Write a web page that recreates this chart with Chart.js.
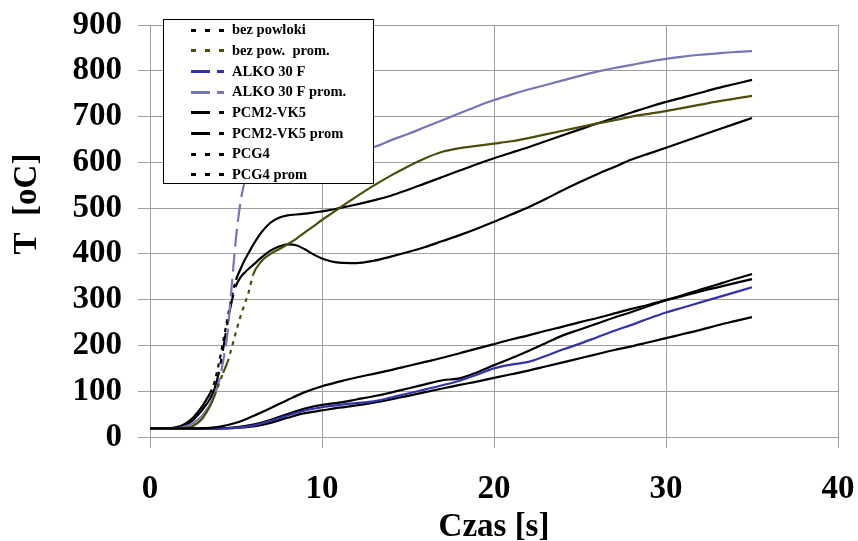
<!DOCTYPE html>
<html>
<head>
<meta charset="utf-8">
<script src="https://cdn.jsdelivr.net/npm/chart.js@4.4.1/dist/chart.umd.min.js"></script>
<style>
html,body{margin:0;padding:0;background:#fff;}
#wrap{width:858px;height:541px;position:relative;}
</style>
</head>
<body>
<div id="wrap"><canvas id="c" width="858" height="541"></canvas></div>
<script>
// ---- data ----
const timeFast = [0,1,1.5,2,2.5,3,3.25,3.5,3.75,4,4.25,4.5,4.75,5,5.25,5.5,5.75,6,6.5,7,7.5,8,8.5,9,9.5,10,10.5,11,12,13,14,15,16,17,18,19,20,21,22,23,24,25,26,27,28,29,30,31,32,33,34,35];
const timeSlow = [0,1,2,3,4,5,6,7,8,9,10,11,12,13,14,15,16,17,18,19,20,21,22,23,24,25,26,27,28,29,30,31,32,33,34,35];

const bezPowloki   = [19,19,19,19,22,31,46,63,81,98,111,121,130,138,146,155,164,173,183,193,203,213,222,232,241,251,260,270,280,289,299,308,318,327,336,345];
const bezPowProm   = [18,18,18,19,24,38,52,68,90,115,140,163,195,230,262,290,318,355,385,400,410,421,433,447,460,474,487,500,525,549,571,591,609,623,631,636,641,646,653,661,669,677,685,692,700,706,712,719,726,733,739,745];
const alko30F      = [19,19,19,19,19,20,25,35,47,58,65,70,74,78,86,95,104,113,123,136,150,158,164,177,191,204,218,232,245,259,272,283,294,305,316,327];
const alko30FProm  = [18,18,19,22,30,45,57,72,92,120,165,225,330,435,510,556,572,584,594,600,604,607,609,611,614,616,619,622,627,633,648,662,677,692,707,722,736,748,759,769,779,789,798,806,813,820,826,831,835,838,841,843];
const pcm2vk5      = [19,19,19,19,19,21,27,37,50,62,70,75,82,89,97,106,115,124,128,141,157,172,188,205,222,235,248,261,273,286,299,310,322,333,345,356];
const pcm2vk5Prom  = [19,19,20,25,37,57,70,84,105,140,192,248,296,330,348,359,368,376,393,407,416,421,419,410,399,390,384,381,380,385,394,404,415,428,441,455,470,486,502,520,539,557,574,590,606,619,632,645,658,671,684,697];
const pcg4         = [19,19,19,19,19,20,23,31,42,52,58,64,69,75,82,90,98,106,114,121,129,137,145,154,163,172,181,190,198,207,216,225,234,244,253,262];
const pcg4Prom     = [19,19,21,28,42,65,80,96,120,160,208,258,305,343,366,386,403,420,448,468,479,484,486,488,490,493,496,500,508,517,527,540,554,568,582,596,609,621,633,646,659,672,685,697,709,721,732,742,752,762,771,780];

const seriesLabels = ['bez powloki','bez pow.  prom.','ALKO 30 F','ALKO 30 F prom.','PCM2-VK5','PCM2-VK5 prom','PCG4','PCG4 prom'];
const xTickValues = [0,10,20,30,40];
const yTickValues = [0,100,200,300,400,500,600,700,800,900];
const xTitle = 'Czas [s]';
const yTitle = 'T  [oC]';

// ---- styles ----
const DOT = [4,5], DASH = [18,7], DASHDOT = [18,8,5,8];
const legendDash = {dot:[5,9], dash:[19,7], dashdot:[19,9,5,9]};
const serif = "'Liberation Serif','Times New Roman',serif";

function pairs(xs, ys){ return ys.map((v,i)=>({x:xs[i], y:v})); }
function mk(label, xs, ys, color, dash, ldash){
  return {
    label, data: pairs(xs, ys), borderColor: color, backgroundColor: color,
    borderWidth: 2.2, pointRadius: 0, fill: false, cubicInterpolationMode: 'monotone',
    borderDash: dash, legendDash: ldash,
    segment: {
      borderDash: ctx => (Math.abs(ctx.p1.y - ctx.p0.y) > 2.5 * Math.abs(ctx.p1.x - ctx.p0.x)) ? dash : []
    }
  };
}

const datasets = [
  mk(seriesLabels[0], timeSlow, bezPowloki,  '#000000', DOT, legendDash.dot),
  mk(seriesLabels[1], timeFast, bezPowProm,  '#4d4d0c', DOT, legendDash.dot),
  mk(seriesLabels[2], timeSlow, alko30F,     '#3434a8', DASH, legendDash.dash),
  mk(seriesLabels[3], timeFast, alko30FProm, '#7676b6', DASH, legendDash.dash),
  mk(seriesLabels[4], timeSlow, pcm2vk5,     '#000000', DASHDOT, legendDash.dashdot),
  mk(seriesLabels[5], timeFast, pcm2vk5Prom, '#000000', DASHDOT, legendDash.dashdot),
  mk(seriesLabels[6], timeSlow, pcg4,        '#000000', DOT, legendDash.dot),
  mk(seriesLabels[7], timeFast, pcg4Prom,    '#000000', DOT, legendDash.dot)
];

const boxLegend = {
  id: 'boxLegend',
  afterDraw(chart){
    const ctx = chart.ctx;
    const L = 163.5, T = 19.5, W = 210, H = 164;
    ctx.save();
    ctx.fillStyle = '#fff';
    ctx.fillRect(L, T, W, H);
    ctx.strokeStyle = '#000';
    ctx.lineWidth = 1;
    ctx.setLineDash([]);
    ctx.strokeRect(L, T, W, H);
    ctx.font = 'bold 14.5px ' + serif;
    ctx.textBaseline = 'middle';
    ctx.textAlign = 'left';
    chart.data.datasets.forEach((ds, i) => {
      const y = 29.5 + i * 20.7;
      ctx.strokeStyle = ds.borderColor;
      ctx.lineWidth = 3;
      ctx.lineCap = 'butt';
      ctx.setLineDash(ds.legendDash);
      ctx.beginPath();
      ctx.moveTo(191, Math.round(y) + 0.5);
      ctx.lineTo(224, Math.round(y) + 0.5);
      ctx.stroke();
      ctx.setLineDash([]);
      ctx.fillStyle = '#000';
      ctx.fillText(ds.label, 232, y + 1);
    });
    ctx.restore();
  }
};

const yTitlePlugin = {
  id: 'yTitlePlugin',
  afterDraw(chart){
    const ctx = chart.ctx;
    const ca = chart.chartArea;
    ctx.save();
    ctx.translate(27, ca.top + 179);
    ctx.rotate(-Math.PI/2);
    ctx.font = 'bold 33px ' + serif;
    ctx.fillStyle = '#000';
    ctx.textAlign = 'center';
    ctx.textBaseline = 'middle';
    ctx.fillText(yTitle, 0, 0);
    ctx.restore();
  }
};

const gridColor = '#a0a0a0';
new Chart(document.getElementById('c'), {
  type: 'line',
  data: { datasets },
  options: {
    responsive: false,
    animation: false,
    layout: { padding: { left: 0, top: 25, right: 20, bottom: 0 } },
    plugins: { legend: { display: false }, tooltip: { enabled: false } },
    scales: {
      x: {
        type: 'linear', min: 0, max: 40,
        afterBuildTicks: s => { s.ticks = xTickValues.map(v => ({value: v})); },
        afterFit: s => { s.height = 104; s.paddingLeft = 0; s.paddingRight = 0; },
        grid: { color: gridColor, tickColor: gridColor, tickLength: 11, lineWidth: 1 },
        border: { color: gridColor },
        ticks: { color: '#000', padding: 22, maxRotation: 0, font: { family: serif, size: 33, weight: 'bold' } },
        title: { display: true, text: xTitle, color: '#000', padding: { top: 0, bottom: -3 },
                 font: { family: serif, size: 33, weight: 'bold', lineHeight: 1 } }
      },
      y: {
        type: 'linear', min: 0, max: 900,
        afterBuildTicks: s => { s.ticks = yTickValues.map(v => ({value: v})); },
        afterFit: s => { s.width = 150; s.paddingTop = 0; s.paddingBottom = 0; },
        grid: { color: gridColor, tickColor: gridColor, tickLength: 12, lineWidth: 1 },
        border: { color: gridColor },
        ticks: { color: '#000', padding: 16, font: { family: serif, size: 33, weight: 'bold' } }
      }
    }
  },
  plugins: [boxLegend, yTitlePlugin]
});
</script>
</body>
</html>
